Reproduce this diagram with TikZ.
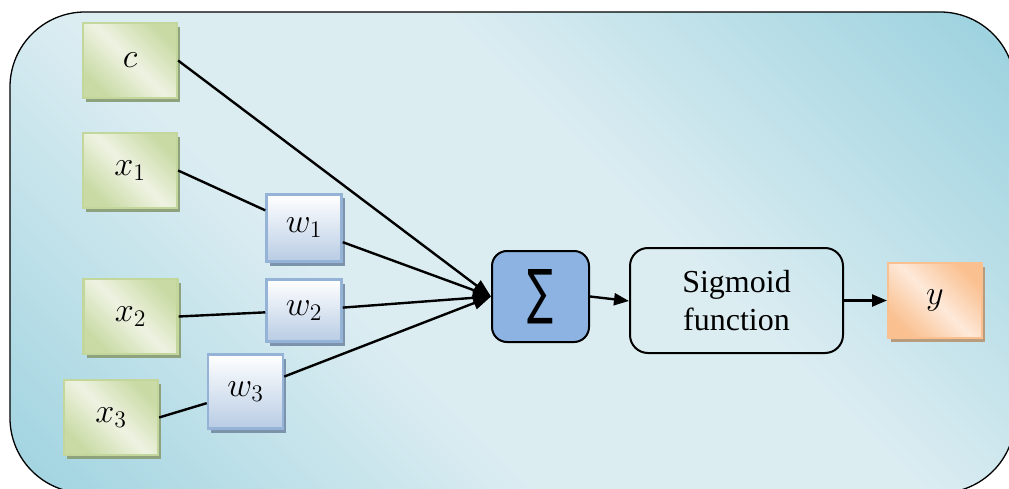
\documentclass[tikz,border=0pt]{standalone}
\usepackage{fontspec}
\setmainfont{Liberation Serif}
\newfontfamily\symbolfont{DejaVu Sans}
\usepackage{graphicx}
\usetikzlibrary{arrows.meta,shadows}

\definecolor{bgdark}{HTML}{93CEDC}
\definecolor{bglight}{HTML}{DCEDF2}
\definecolor{greendark}{HTML}{C9DAA4}
\definecolor{greenlight}{HTML}{EEF3E2}
\definecolor{greenedge}{HTML}{C3D69B}
\definecolor{greenshadow}{HTML}{8EA27E}
\definecolor{blueedge}{HTML}{95B3D7}
\definecolor{bluebottom}{HTML}{B8CCE4}
\definecolor{blueshadow}{HTML}{7C93AC}
\definecolor{sumfill}{HTML}{8DB3E2}
\definecolor{orangedark}{HTML}{FAC090}
\definecolor{orangelight}{HTML}{FDE9D9}
\definecolor{orangeshadow}{HTML}{B89C7E}

% panel gradient: dark towards two opposite corners, light through the middle
\pgfdeclareverticalshading{panelshade}{100bp}{color(0bp)=(bgdark); color(10bp)=(bgdark); color(40bp)=(bglight); color(58bp)=(bglight); color(88bp)=(bgdark); color(100bp)=(bgdark)}

% large math label
\newcommand{\biglabel}[1]{\scalebox{1.65}{\fontsize{20.74}{25}\selectfont$#1$}}

\tikzset{
  inputbox/.style={draw=greenedge, line width=2.2pt, inner sep=0pt,
    top color=greendark, bottom color=greendark, middle color=greenlight, shading angle=-45,
    minimum width=94pt, minimum height=75pt,
    general shadow={fill=greenshadow, shadow xshift=3pt, shadow yshift=-4pt}},
  weightbox/.style={draw=blueedge, line width=2.5pt, inner sep=0pt,
    top color=white, bottom color=bluebottom,
    minimum width=75pt,
    general shadow={fill=blueshadow, shadow xshift=3pt, shadow yshift=-4pt}},
  outputbox/.style={draw=orangedark, line width=2pt, inner sep=0pt,
    top color=orangedark, bottom color=orangedark, middle color=orangelight, shading angle=-45,
    minimum width=94pt, minimum height=75pt,
    general shadow={fill=orangeshadow, shadow xshift=3pt, shadow yshift=-4pt}},
  sumbox/.style={draw=black, line width=2pt, fill=sumfill, rounded corners=15pt,
    minimum width=97pt, minimum height=91pt, inner sep=0pt},
  funcbox/.style={draw=black, line width=2pt, rounded corners=18pt, align=center,
    minimum width=213pt, minimum height=105pt, inner sep=0pt,
    font=\fontsize{32}{38}\selectfont},
  link/.style={line width=2.4pt, black},
  arrowlink/.style={link, -{Triangle[length=15pt,width=12pt]}},
  feedlink/.style={link, -{Triangle[length=18pt,width=13pt]}}
}

\begin{document}
\begin{tikzpicture}[x=1pt,y=-1pt]
\useasboundingbox (0,0) rectangle (1009,489);

% rounded panel behind the whole network
\begin{scope}
  \clip (0,0) rectangle (1009,489);
  \path[draw=black, line width=1.3pt, rounded corners=75pt,
        shading=panelshade, shading angle=-45] (10,12) rectangle (1015,493);
\end{scope}

% inputs
\node[inputbox] (c)  at (130,60.5)  {\biglabel{c}};
\node[inputbox] (x1) at (130,170.5) {\biglabel{x_1}};
\node[inputbox] (x2) at (130.5,316.5) {\biglabel{x_2}};
\node[inputbox] (x3) at (111,417.5) {\biglabel{x_3}};

% weights
\node[weightbox, minimum height=67pt] (w1) at (304,228)   {\biglabel{w_1}};
\node[weightbox, minimum height=62pt] (w2) at (304,310.5) {\biglabel{w_2}};
\node[weightbox, minimum height=74pt] (w3) at (245.5,391.5) {\biglabel{w_3}};

% summation, activation and output
\node[sumbox] (sum) at (540.5,296.5) {\resizebox{26pt}{43pt}{\symbolfont ∑}};
\node[funcbox] (sig) at (736.5,300.5) {Sigmoid\\function};
\node[outputbox] (y) at (935,300.5) {\biglabel{y}};

% connections
\draw[link] (x1.east) -- (w1);
\draw[link] (x2.east) -- (w2);
\draw[link] (x3.east) -- (w3);
\draw[feedlink] (c.east) -- (sum.west);
\draw[feedlink] (w1) -- (sum.west);
\draw[feedlink] (w2) -- (sum.west);
\draw[feedlink] (w3) -- (sum.west);
\draw[arrowlink] (sum.east) -- ([yshift=-0.5pt]sig.west);
\draw[arrowlink] (sig.east) -- (y.west);
\end{tikzpicture}
\end{document}
